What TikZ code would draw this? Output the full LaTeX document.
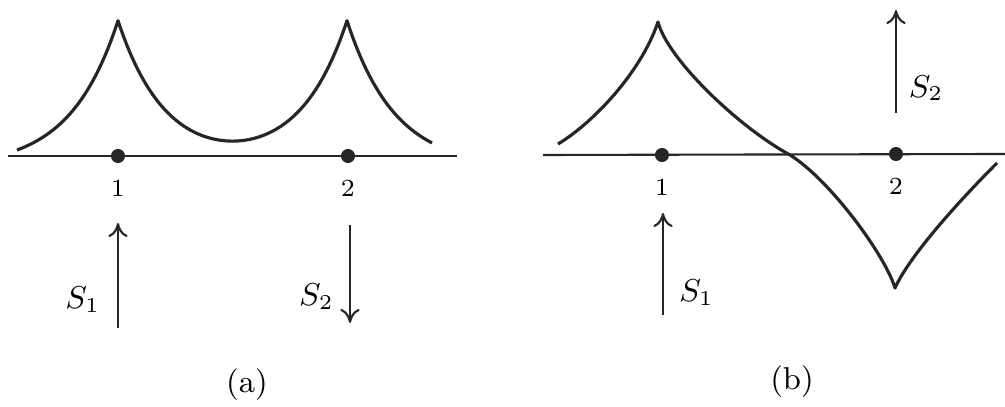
\documentclass[tikz,border=0pt]{standalone}
\usepackage{amsmath}
\usetikzlibrary{arrows.meta, positioning}
\tikzstyle{axis}    = [line width=0.6pt, draw=black!85]
\tikzstyle{wave}    = [line width=0.9pt, draw=black!85, line join=round]
\tikzstyle{site}    = [circle, fill=black!85, inner sep=0pt, minimum size=4pt]
\tikzstyle{sitenum} = [font=\scriptsize, inner sep=2pt]
\tikzstyle{slabel}  = [font=\small]
\tikzstyle{panel}   = [font=\small]
\tikzstyle{arrow}   = [line width=0.6pt, draw=black!85, -{To[length=4pt,width=5.5pt]}]

\begin{document}
\begin{tikzpicture}[x=0.01cm, y=-0.01cm,
    declare function={wa(\x)=168-146*(exp(-abs(\x-118)/48)+exp(-abs(\x-347)/48));}]
    \useasboundingbox (0,0) rectangle (1005,407);

    % (a) symmetric
    \coordinate (aL) at (8,156);
    \coordinate (aR) at (457,156);
    \draw [axis] (aL) -- (aR);
    \draw [wave] plot[domain=17:118, samples=40] (\x,{wa(\x)})
        -- plot[domain=118:347, samples=80] (\x,{wa(\x)})
        -- plot[domain=347:432, samples=40] (\x,{wa(\x)});
    \node (a1) [site] at (118,156) {};
    \node (a2) [site] at (348,156) {};
    \node (a1num) [sitenum, below=0.09cm of a1] {1};
    \node (a2num) [sitenum, below=0.09cm of a2] {2};

    \coordinate (a1tail) at (118,328);
    \coordinate (a1head) at (118,223);
    \coordinate (a2tail) at (350,225);
    \coordinate (a2head) at (350,323);
    \draw [arrow] (a1tail) -- node[slabel, pos=0.27, left=1.5pt]{$S_1$} (a1head);
    \draw [arrow] (a2tail) -- node[slabel, pos=0.73, left=1pt]{$S_2$} (a2head);
    \node (capa) [panel] at (247,385) {(a)};

    % (b) antisymmetric
    \coordinate (bL) at (543,155);
    \coordinate (bR) at (1005,154);
    \draw [axis] (bL) -- (bR);
    \draw [wave] (558,144) .. controls (590,125) and (640,75) .. (658,22)
        .. controls (668,60) and (740,128) .. (790,155)
        .. controls (830,180) and (885,255) .. (895,288)
        .. controls (910,255) and (960,200) .. (997,163);
    \node (b1) [site] at (662,155) {};
    \node (b2) [site] at (896,154) {};
    \node (b1num) [sitenum, below=0.09cm of b1] {1};
    \node (b2num) [sitenum, below=0.09cm of b2] {2};

    \coordinate (b1tail) at (663,315);
    \coordinate (b1head) at (663,213);
    \coordinate (b2tail) at (896,113);
    \coordinate (b2head) at (896,10);
    \draw [arrow] (b1tail) -- node[slabel, pos=0.22, right=1pt]{$S_1$} (b1head);
    \draw [arrow] (b2tail) -- node[slabel, pos=0.24, right]{$S_2$} (b2head);
    \node (capb) [panel] at (792,382) {(b)};
\end{tikzpicture}
\end{document}
